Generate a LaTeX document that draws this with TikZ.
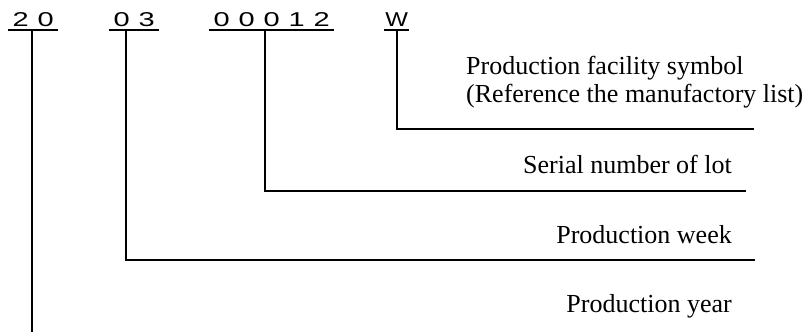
\documentclass[tikz,border=0pt]{standalone}
\usepackage{fontspec}
\setmainfont{Liberation Serif}
\newfontfamily\codefont{Liberation Sans}
\newcommand\codechar[2][1.45]{\makebox[25pt]{\scalebox{#1}[1]{#2}}}
\begin{document}
\begin{tikzpicture}[x=1pt,y=-1pt,
  conn/.style={line width=1.8pt},
  ul/.style={line width=1.5pt},
  code/.style={inner sep=0pt, text depth=2.8pt, anchor=base west,
    font=\codefont\fontsize{20}{20}\selectfont},
  lbl/.style={inner sep=0pt, font=\fontsize{26}{28}\selectfont}]
\useasboundingbox (0,0) rectangle (808,332);
% code groups
\node[code] (g20) at (8,27) {\codechar{2}\codechar{0}};
\node[code] (g03) at (109,27) {\codechar{0}\codechar{3}};
\node[code] (g12) at (209,27) {\codechar{0}\codechar{0}\codechar{0}\codechar{1}\codechar{2}};
\node[code] (gW) at (384,27) {\codechar[1.2]{W}};
\foreach \g in {g20,g03,g12,gW}
  \draw[ul] (\g.south west) -- (\g.south east);
% labels
\node[lbl, anchor=north west, align=left] (fac) at (466,56)
  {Production facility symbol\\(Reference the manufactory list)};
\node[lbl, anchor=base east] (ser) at (732,173) {Serial number of lot};
\node[lbl, anchor=base east] (wk) at (732,243) {Production week};
\node[lbl, anchor=base east] (yr) at (732,312) {Production year};
% connector ends
\coordinate (endW) at (754,129);
\coordinate (end12) at (746,191);
\coordinate (end03) at (755,260);
\coordinate (end20) at (32,332);
% connectors
\draw[conn] ([xshift=24pt]g20.south west) -- (end20);
\draw[conn] ([xshift=17pt]g03.south west) |- (end03);
\draw[conn] ([xshift=56pt]g12.south west) |- (end12);
\draw[conn] (gW.south) |- (endW);
\end{tikzpicture}
\end{document}
